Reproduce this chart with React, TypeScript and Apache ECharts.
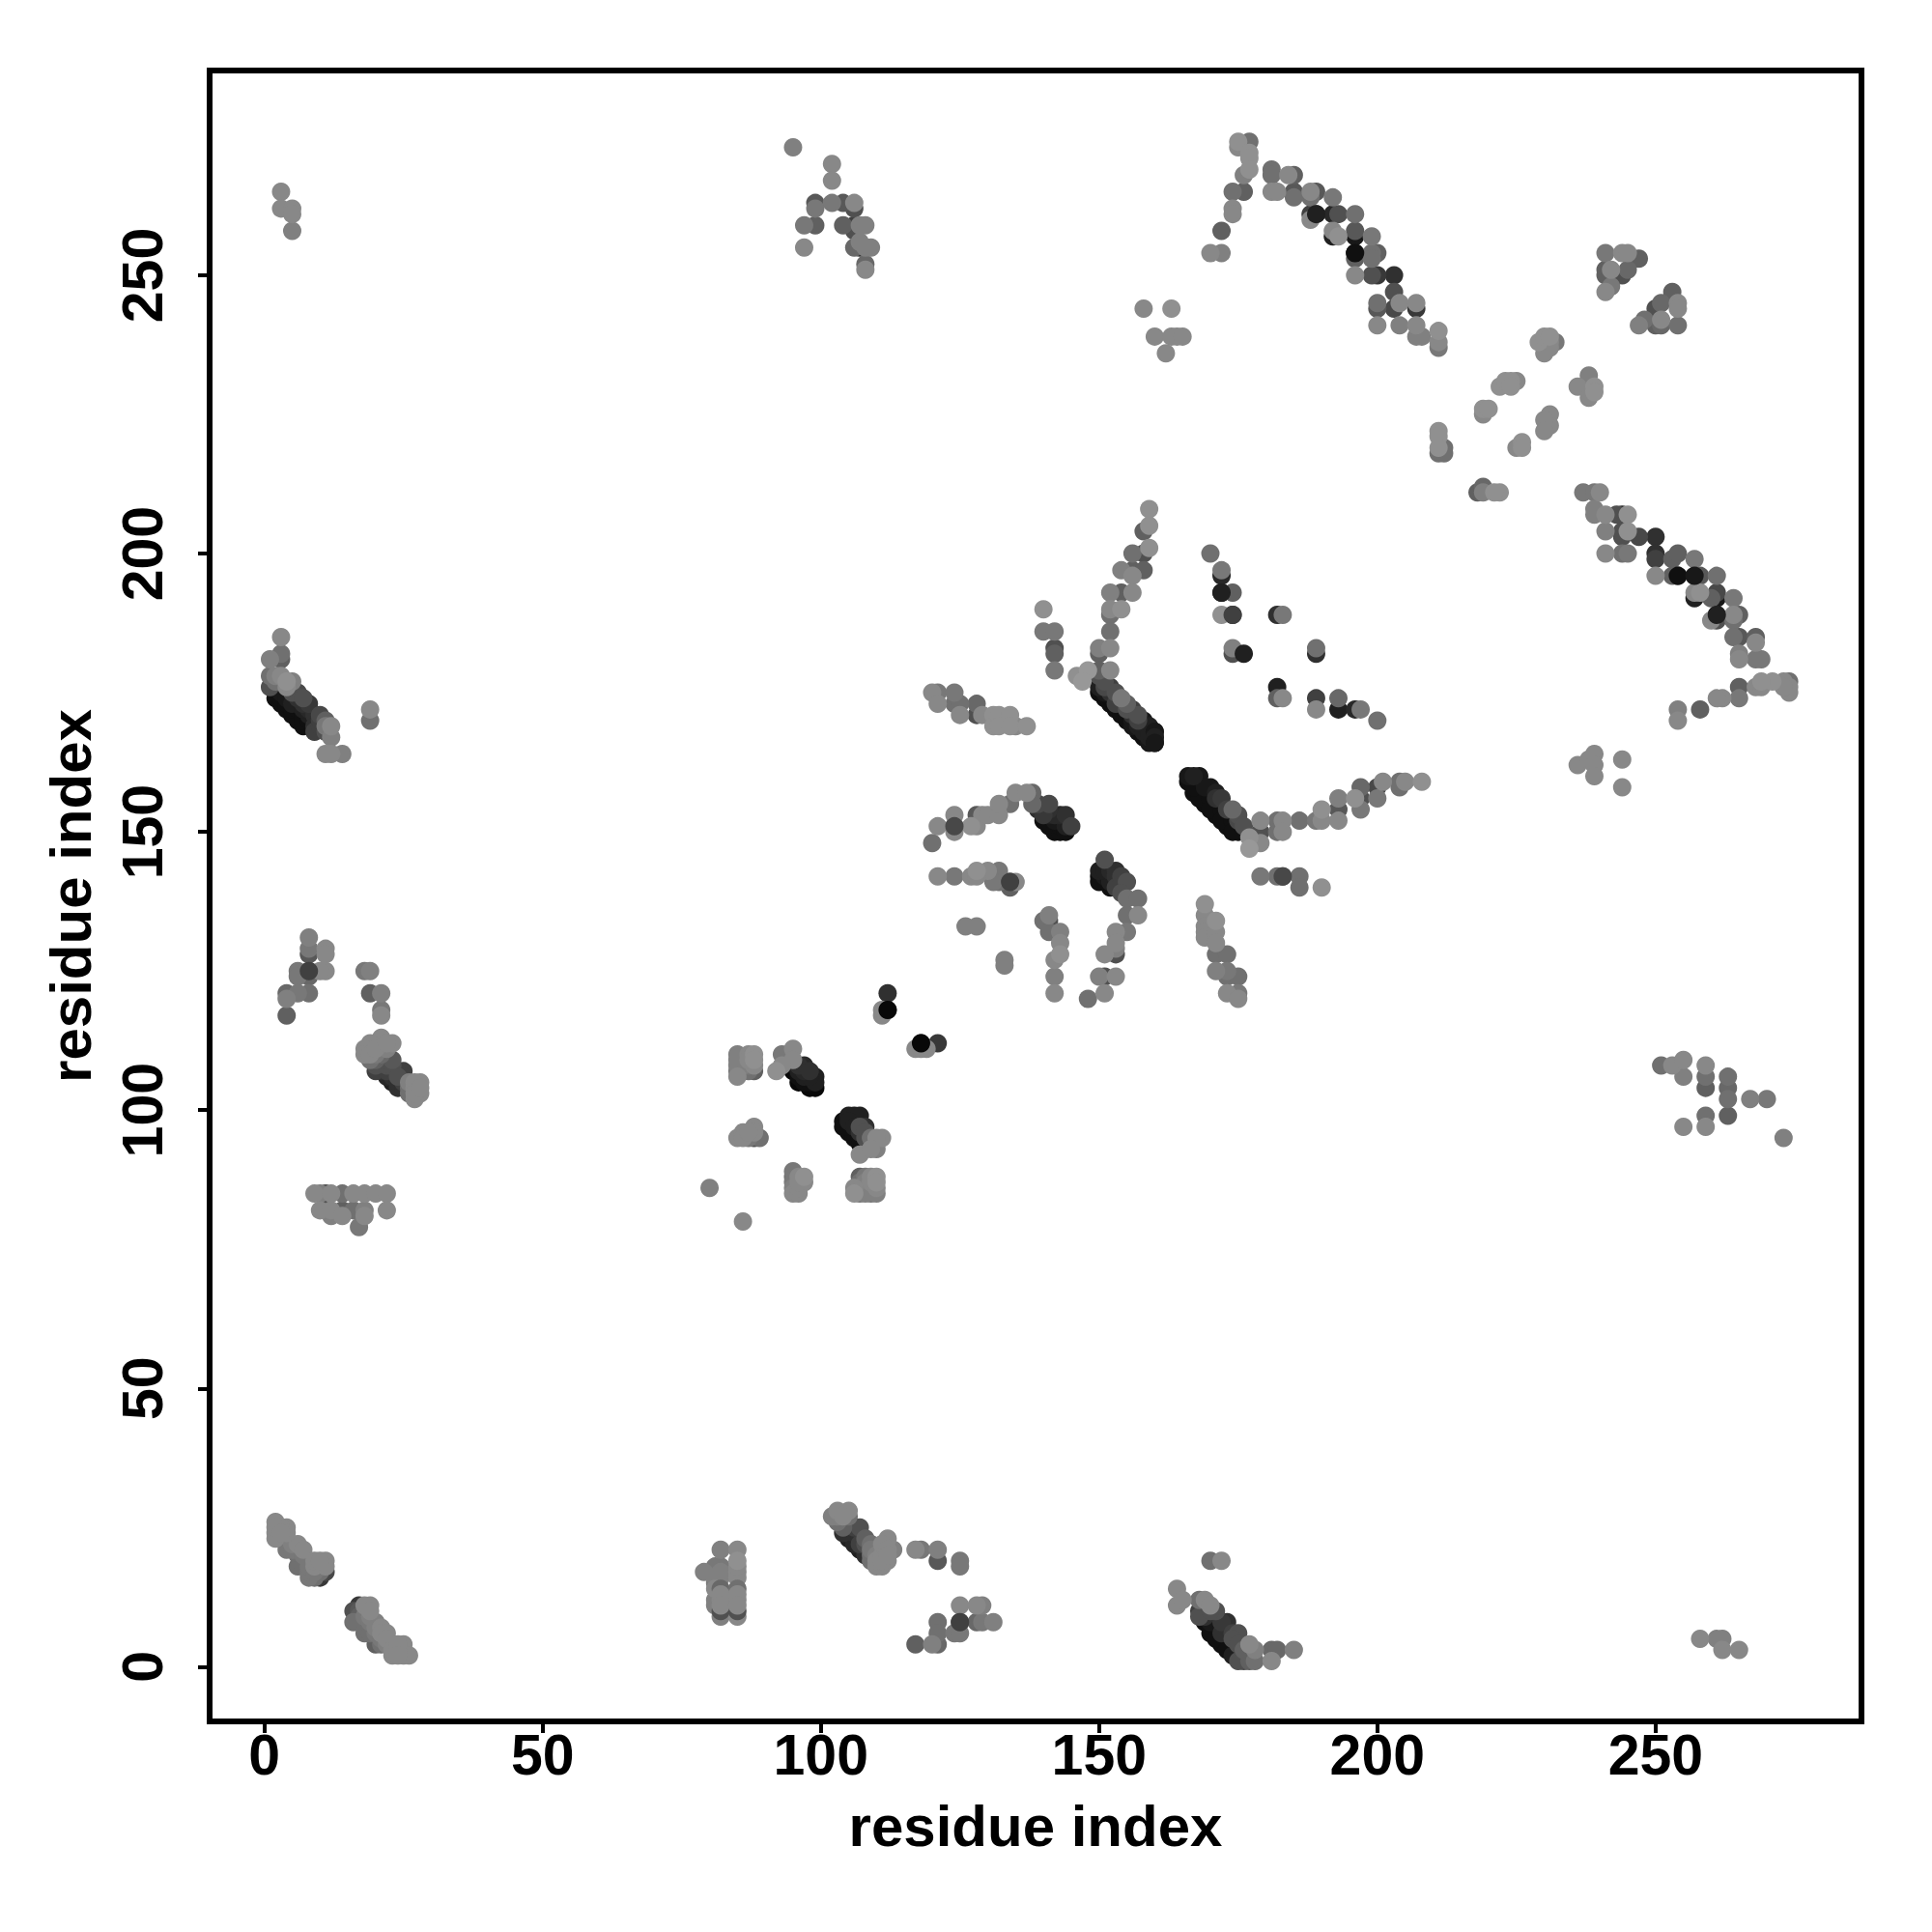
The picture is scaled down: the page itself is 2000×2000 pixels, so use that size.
import React, { useEffect, useRef } from "react";
import * as echarts from "echarts";

type P = [number, number, number];

const xTicks = [0, 50, 100, 150, 200, 250];
const yTicks = [0, 50, 100, 150, 200, 250];

const centerArcUp: P[] = [[159,208,0x90],[158,204,0x60],[159,205,0x90],[158,200,0x50],[156,200,0x70],[159,201,0x90],[156,196,0x88],[154,197,0x80],[156,197,0x60],[158,197,0x60],[152,193,0x80],[154,193,0x60],[156,193,0x88],[152,189,0x70],[152,190,0x88],[154,190,0x90],[152,186,0x70],[150,182,0x60],[150,183,0x80],[152,183,0x88],[150,179,0x60],[152,179,0x88],[148,179,0x98],[147,177,0x98],[146,178,0x90]];
const centerSmallLeft: P[] = [[140,190,0x90],[140,186,0x78],[142,186,0x78],[142,182,0x60],[142,183,0x50],[142,179,0x78]];
const centerBandA: P[] = [[150,178,0x50],[150,176,0x20],[150,175,0x10],[151,174,0x10],[152,173,0x10],[153,172,0x10],[154,171,0x10],[155,170,0x10],[156,169,0x18],[157,168,0x10],[158,167,0x10],[159,166,0x18],[160,166,0x18],[160,167,0x20],[160,168,0x18],[158,170,0x18],[156,172,0x40],[155,172,0x50],[154,174,0x78],[152,176,0x40],[151,176,0x48],[153,173,0x40],[151,175,0x18],[152,174,0x10],[152,175,0x30],[154,173,0x30],[155,171,0x10],[156,171,0x30],[156,170,0x18],[157,169,0x20],[158,168,0x20],[159,167,0x20],[157,170,0x40],[159,169,0x20],[159,168,0x20],[155,173,0x60],[153,175,0x50],[151,177,0x50],[157,171,0x50]];
const centerBandB: P[] = [[120,175,0x88],[121,175,0x78],[121,173,0x88],[124,175,0x78],[124,173,0x70],[125,173,0x70],[125,171,0x88],[128,173,0x68],[128,171,0x50],[129,171,0x88],[131,171,0x90],[131,169,0x90],[132,171,0x90],[132,169,0x90],[134,171,0x90],[134,169,0x90],[135,169,0x88],[137,169,0x90]];
const centerArcLeft: P[] = [[120,148,0x70],[121,151,0x88],[124,153,0x88],[124,150,0x88],[124,151,0x48],[127,151,0x90],[128,151,0x88],[128,153,0x58],[129,153,0x88],[130,153,0x88],[132,153,0x88],[132,155,0x88],[134,155,0x70],[135,157,0x88],[137,157,0x88],[138,157,0x68],[138,155,0x68],[139,155,0x48],[141,155,0x48],[143,153,0x28],[140,153,0x38],[145,151,0x40],[140,152,0x10],[141,151,0x10],[142,150,0x10],[143,150,0x10],[140,154,0x20],[141,153,0x20],[142,152,0x18],[143,151,0x10],[144,151,0x20],[144,150,0x10],[142,153,0x28],[144,153,0x30],[141,154,0x30],[139,154,0x30]];
const centerRow142: P[] = [[121,142,0x88],[124,142,0x78],[127,142,0x88],[128,143,0x90],[130,143,0x88],[132,143,0x78],[128,142,0x88],[131,141,0x78],[132,141,0x70],[134,140,0x60],[134,141,0x40],[135,141,0x88]];
const centerSpots: P[] = [[126,133,0x80],[128,133,0x80],[133,127,0x80],[133,126,0x80],[140,134,0x70],[141,135,0x80],[141,134,0x50],[141,132,0x70],[143,132,0x80],[143,130,0x88],[143,128,0x90],[142,127,0x88],[142,124,0x80],[142,121,0x88]];
const centerInner: P[] = [[151,145,0x50],[150,143,0x20],[153,143,0x30],[152,143,0x28],[155,141,0x50],[152,141,0x20],[150,142,0x10],[151,141,0x10],[152,140,0x10],[154,139,0x50],[155,138,0x70],[157,138,0x70],[157,135,0x88],[155,135,0x70],[155,132,0x78],[153,132,0x88],[153,130,0x88],[153,128,0x50],[153,129,0x80],[151,128,0x88],[153,124,0x88],[151,124,0x50],[150,124,0x80],[151,121,0x88],[148,120,0x70],[151,143,0x20],[151,142,0x18],[152,142,0x18],[153,141,0x18],[153,140,0x40],[154,141,0x40],[153,142,0x30],[154,142,0x40],[150,141,0x10]];
const centerUpperRight: P[] = [[170,200,0x70],[172,196,0x28],[172,197,0x78],[172,193,0x20],[174,193,0x60],[172,189,0x90],[174,189,0x40],[182,189,0x30],[183,189,0x78],[174,182,0x50],[174,183,0x80],[189,182,0x30],[189,183,0x70],[182,176,0x20],[182,174,0x60],[183,174,0x88],[189,172,0x88],[189,174,0x40],[193,172,0x20],[193,174,0x68],[196,172,0x28],[197,172,0x78],[200,170,0x70]];
const centerArcRight: P[] = [[166,160,0x18],[168,160,0x18],[167,160,0x20],[170,158,0x18],[172,156,0x38],[174,154,0x68],[175,152,0x48],[166,159,0x10],[167,157,0x10],[169,155,0x10],[171,153,0x10],[173,151,0x10],[175,150,0x10],[168,158,0x10],[168,156,0x10],[170,156,0x10],[170,154,0x10],[172,154,0x10],[172,152,0x10],[174,152,0x10],[174,150,0x10],[169,158,0x18],[171,156,0x30],[173,154,0x40],[175,153,0x50],[176,151,0x50],[171,157,0x20],[167,158,0x10],[179,150,0x50],[179,152,0x88],[177,147,0x98],[177,149,0x90],[179,148,0x88],[182,152,0x70],[183,152,0x88],[183,150,0x88],[182,150,0x70],[186,152,0x70],[189,152,0x78],[190,152,0x88],[190,154,0x90],[193,152,0x88],[193,154,0x58],[193,156,0x80],[197,154,0x78],[197,156,0x50],[197,158,0x68],[196,156,0x90],[200,156,0x78],[200,158,0x48],[201,159,0x88],[204,158,0x70],[204,159,0x70],[205,159,0x88],[208,159,0x90]];
const centerLowerRight: P[] = [[179,142,0x78],[182,142,0x70],[183,142,0x48],[186,142,0x70],[186,140,0x70],[190,140,0x90],[169,137,0x90],[169,135,0x88],[169,133,0x88],[169,132,0x88],[169,131,0x88],[171,134,0x90],[171,132,0x88],[171,130,0x88],[171,128,0x70],[173,128,0x70],[171,125,0x80],[173,125,0x78],[173,124,0x70],[175,124,0x70],[173,121,0x88],[175,121,0x78],[175,120,0x88]];
const nearDiagonal: P[] = [[112,121,0x30],[111,117,0x88],[111,118,0x88],[112,118,0x08],[118,112,0x08],[121,112,0x38],[117,111,0x88],[118,111,0x88],[119,111,0x88]];

const topArc: P[] = [[175,274,0x90],[175,273,0x88],[177,274,0x70],[177,272,0x90],[177,271,0x90],[176,268,0x80],[177,269,0x90],[174,265,0x70],[176,265,0x60],[174,262,0x88],[174,261,0x88],[172,258,0x60],[170,254,0x88],[172,254,0x80],[181,269,0x70],[181,268,0x70],[181,265,0x88],[182,265,0x88],[184,268,0x88],[185,268,0x60],[185,265,0x58],[185,264,0x70],[188,265,0x88],[189,265,0x58],[188,264,0x70],[192,264,0x78],[188,260,0x88],[188,261,0x40],[189,261,0x20],[192,261,0x28],[193,261,0x50],[196,261,0x70],[192,257,0x20],[192,258,0x88],[193,257,0x90],[196,258,0x58],[196,257,0x18],[199,257,0x78],[196,254,0x10],[196,253,0x60],[199,254,0x70],[200,254,0x60],[199,253,0x70],[196,250,0x88],[199,250,0x50],[200,250,0x38],[203,250,0x30],[203,247,0x50],[200,245,0x70],[200,244,0x58],[203,244,0x48],[204,245,0x88],[207,245,0x88],[207,244,0x38],[200,241,0x88],[204,241,0x80],[207,241,0x88],[207,239,0x80],[208,239,0x80],[211,240,0x90],[211,238,0x88],[211,237,0x78]];
const upperRightPair: P[] = [[241,254,0x78],[244,254,0x88],[245,254,0x88],[247,253,0x60],[245,251,0x68],[244,250,0x50],[241,251,0x60],[242,251,0x88],[241,250,0x60],[242,248,0x78],[241,247,0x88],[253,247,0x60],[251,245,0x68],[254,245,0x88],[250,244,0x50],[254,244,0x88],[248,242,0x70],[251,242,0x88],[247,241,0x80],[250,241,0x60],[251,241,0x68],[254,241,0x70]];
const diagonalX: P[] = [[229,238,0x90],[230,239,0x90],[231,239,0x90],[232,238,0x78],[231,238,0x88],[230,236,0x88],[231,237,0x88],[222,230,0x90],[223,231,0x90],[224,231,0x90],[225,231,0x88],[224,230,0x90],[219,226,0x90],[220,226,0x90],[219,225,0x88],[211,222,0x90],[211,221,0x90],[211,219,0x90],[212,219,0x70],[211,218,0x70],[212,218,0x70],[219,212,0x68],[218,211,0x60],[219,211,0x80],[222,211,0x90],[221,211,0x90],[236,230,0x88],[238,232,0x80],[239,230,0x90],[239,229,0x90],[238,228,0x88],[231,225,0x88],[231,223,0x88],[230,224,0x88],[230,222,0x88],[226,220,0x90],[225,219,0x88],[226,219,0x90]];
const rightBand: P[] = [[237,211,0x78],[239,211,0x78],[240,211,0x88],[239,208,0x80],[239,207,0x80],[241,207,0x88],[243,207,0x50],[244,207,0x30],[245,207,0x90],[241,204,0x80],[244,204,0x50],[245,204,0x90],[244,203,0x50],[247,203,0x48],[250,203,0x30],[241,200,0x88],[244,200,0x70],[245,200,0x78],[250,200,0x30],[250,199,0x40],[253,199,0x60],[254,200,0x60],[257,199,0x78],[250,196,0x88],[253,196,0x60],[254,196,0x10],[257,196,0x18],[258,196,0x58],[261,196,0x70],[257,192,0x20],[257,193,0x88],[258,193,0x90],[261,193,0x48],[260,192,0x60],[261,192,0x18],[264,192,0x78],[260,188,0x88],[261,189,0x20],[261,188,0x50],[264,189,0x88],[265,189,0x60],[264,188,0x70],[264,185,0x70],[265,185,0x58],[268,185,0x60],[268,184,0x88],[265,182,0x80],[265,181,0x88],[268,181,0x78],[269,181,0x78],[274,175,0x88],[274,176,0x88],[273,177,0x88],[273,176,0x88],[271,177,0x90],[269,177,0x90],[268,176,0x88],[269,176,0x88],[274,177,0x70],[265,176,0x60],[265,174,0x78],[262,174,0x88],[261,174,0x88],[258,172,0x60],[254,172,0x80],[254,170,0x88],[236,162,0x88],[238,163,0x88],[239,164,0x88],[239,162,0x88],[239,160,0x88],[244,163,0x88],[244,158,0x88]];
const upperScatter: P[] = [[158,244,0x88],[163,244,0x90],[160,239,0x88],[163,239,0x88],[164,239,0x88],[165,239,0x88],[162,236,0x88],[3,265,0x88],[3,262,0x88],[5,262,0x88],[5,261,0x88],[5,258,0x80]];
const upperMiddle: P[] = [[95,273,0x80],[102,270,0x88],[102,267,0x88],[99,262,0x78],[99,263,0x58],[102,263,0x78],[104,263,0x58],[106,262,0x50],[106,263,0x88],[97,259,0x78],[99,259,0x60],[104,259,0x60],[106,258,0x50],[106,259,0x40],[107,259,0x80],[108,259,0x80],[97,255,0x88],[106,255,0x68],[107,255,0x30],[108,255,0x80],[109,255,0x80],[107,256,0x80],[108,252,0x68],[108,251,0x88]];

const leftTop: P[] = [[3,185,0x88],[1,181,0x80],[3,182,0x70],[3,181,0x60],[1,178,0x70],[1,176,0x50],[3,178,0x88],[4,177,0x90],[2,176,0x10],[2,174,0x10],[3,173,0x10],[4,172,0x10],[5,171,0x10],[6,170,0x10],[7,169,0x10],[5,175,0x50],[6,175,0x48],[6,173,0x18],[8,173,0x38],[8,171,0x20],[10,171,0x48],[9,168,0x40],[11,169,0x78],[12,169,0x88],[12,167,0x80],[11,164,0x88],[12,164,0x88],[14,164,0x80],[19,172,0x88],[19,170,0x70],[3,175,0x18],[3,174,0x10],[4,174,0x18],[4,173,0x10],[5,173,0x20],[5,172,0x10],[6,172,0x10],[7,171,0x10],[7,170,0x10],[7,172,0x20],[8,172,0x28],[8,170,0x10],[9,170,0x20],[9,171,0x30],[9,169,0x30],[10,169,0x40],[10,170,0x40],[11,170,0x60],[11,168,0x50],[4,176,0x88],[5,177,0x80],[2,178,0x80],[2,177,0x70],[7,174,0x50],[7,173,0x30],[6,174,0x30]];
const leftMid: P[] = [[8,131,0x80],[8,129,0x78],[8,128,0x58],[11,129,0x88],[11,128,0x88],[11,125,0x88],[10,125,0x88],[6,125,0x78],[6,124,0x78],[8,125,0x40],[8,124,0x68],[4,121,0x68],[4,120,0x80],[6,121,0x78],[8,121,0x70],[4,117,0x60],[18,125,0x78],[19,125,0x80],[19,121,0x60],[21,121,0x80],[21,118,0x78],[21,117,0x88]];
const leftBand: P[] = [[21,113,0x88],[23,112,0x88],[19,112,0x88],[18,111,0x88],[18,110,0x88],[21,111,0x70],[21,110,0x68],[23,109,0x58],[20,108,0x50],[20,107,0x40],[22,106,0x28],[25,107,0x40],[24,104,0x30],[26,105,0x80],[28,105,0x88],[28,103,0x88],[27,104,0x88],[27,102,0x88],[19,109,0x70],[20,110,0x78],[20,109,0x60],[21,109,0x50],[21,108,0x30],[21,107,0x30],[22,108,0x50],[23,108,0x50],[22,107,0x40],[23,107,0x30],[23,106,0x30],[24,106,0x50],[23,105,0x20],[24,105,0x30],[25,106,0x40],[25,105,0x40],[25,104,0x30],[26,104,0x70],[26,103,0x70],[19,110,0x88],[20,111,0x88],[22,112,0x88],[22,111,0x80],[27,105,0x88],[27,103,0x88],[28,104,0x88]];
const leftRow85: P[] = [[9,85,0x88],[10,85,0x80],[11,85,0x50],[12,85,0x88],[14,85,0x70],[16,85,0x88],[18,85,0x88],[20,85,0x88],[22,85,0x88],[10,82,0x88],[11,82,0x50],[12,82,0x88],[14,82,0x60],[16,82,0x70],[18,82,0x80],[22,82,0x88],[12,81,0x80],[14,81,0x88],[18,81,0x88],[17,79,0x78]];
const bottomLeft: P[] = [[2,26,0x88],[2,24,0x88],[2,23,0x88],[4,25,0x88],[4,21,0x78],[6,22,0x88],[7,21,0x88],[6,18,0x70],[8,19,0x78],[8,16,0x78],[11,19,0x88],[11,18,0x88],[11,17,0x48],[10,16,0x38],[9,16,0x70],[8,17,0x78],[3,25,0x88],[2,25,0x88],[4,24,0x88],[3,24,0x88],[5,22,0x80],[5,21,0x78],[6,21,0x78],[6,20,0x70],[7,20,0x78],[7,19,0x70],[7,18,0x70],[8,18,0x78],[9,18,0x88],[9,19,0x88],[10,19,0x88],[9,17,0x78],[10,17,0x70],[17,11,0x38],[16,10,0x50],[19,11,0x88],[16,8,0x70],[18,8,0x70],[18,6,0x70],[21,7,0x88],[18,11,0x88],[18,9,0x78],[20,4,0x60],[23,4,0x88],[25,4,0x88],[23,2,0x88],[25,2,0x88],[26,2,0x88],[21,6,0x88],[22,6,0x88],[17,10,0x58],[17,9,0x60],[19,10,0x88],[19,9,0x80],[19,8,0x78],[20,8,0x80],[20,7,0x80],[20,6,0x78],[21,5,0x78],[22,5,0x88],[22,4,0x80],[23,3,0x88],[24,3,0x88],[24,4,0x88],[24,2,0x88],[21,4,0x70],[19,6,0x70]];

const midBlocks: P[] = [[85,110,0x80],[85,108,0x80],[85,106,0x88],[87,110,0x88],[88,110,0x90],[88,108,0x88],[88,107,0x60],[87,107,0x70],[85,107,0x78],[85,109,0x80],[86,109,0x80],[87,109,0x88],[88,109,0x90],[86,107,0x70],[86,108,0x80],[87,108,0x78],[92,107,0x90],[93,110,0x78],[95,111,0x88],[95,109,0x88],[93,108,0x88],[97,108,0x28],[96,108,0x30],[99,106,0x20],[99,105,0x20],[98,104,0x08],[96,105,0x08],[95,107,0x08],[97,106,0x20],[96,107,0x20],[96,106,0x10],[97,105,0x10],[98,105,0x10],[98,106,0x20],[98,107,0x30],[99,104,0x08],[97,107,0x28],[85,95,0x88],[87,95,0x78],[88,97,0x88],[89,95,0x70],[86,96,0x88],[88,95,0x50],[86,95,0x88],[88,96,0x88],[87,96,0x88],[95,89,0x78],[95,88,0x70],[95,85,0x88],[96,85,0x88],[97,88,0x90],[97,87,0x88],[95,87,0x78],[95,86,0x80],[96,86,0x88],[96,88,0x88],[96,87,0x88],[107,88,0x60],[106,85,0x90],[108,88,0x78],[110,88,0x90],[110,85,0x80],[108,85,0x80],[109,85,0x78],[110,87,0x90],[107,86,0x70],[108,86,0x80],[107,87,0x70],[108,87,0x80],[109,88,0x88],[109,87,0x88],[109,86,0x80],[110,86,0x88],[107,85,0x78],[106,86,0x88],[105,99,0x20],[104,98,0x10],[107,99,0x20],[106,99,0x20],[108,97,0x30],[107,97,0x50],[105,96,0x10],[107,94,0x08],[106,95,0x10],[105,98,0x20],[104,97,0x10],[106,97,0x20],[106,96,0x10],[107,95,0x10],[105,97,0x10],[107,96,0x30],[108,95,0x50],[108,96,0x50],[109,95,0x70],[111,95,0x88],[110,95,0x88],[107,92,0x88],[109,93,0x88],[110,93,0x80],[80,86,0x80],[86,80,0x88]];
const bottomMid: P[] = [[82,21,0x80],[85,21,0x88],[85,19,0x90],[79,17,0x80],[82,18,0x78],[81,18,0x78],[85,17,0x88],[85,16,0x88],[81,14,0x88],[81,12,0x80],[82,12,0x88],[85,12,0x88],[85,9,0x88],[82,9,0x80],[81,11,0x80],[81,16,0x80],[82,16,0x80],[81,15,0x78],[82,17,0x80],[85,18,0x88],[102,27,0x80],[103,28,0x88],[105,28,0x88],[104,25,0x60],[104,24,0x30],[106,22,0x28],[107,25,0x50],[108,23,0x60],[108,20,0x30],[112,23,0x88],[113,21,0x80],[110,21,0x78],[110,18,0x88],[111,18,0x88],[112,19,0x88],[109,21,0x78],[105,27,0x70],[103,26,0x70],[103,27,0x80],[104,27,0x88],[105,26,0x48],[105,25,0x30],[105,23,0x20],[106,25,0x40],[106,24,0x30],[107,23,0x30],[107,21,0x20],[107,22,0x40],[108,21,0x30],[108,22,0x50],[109,22,0x70],[109,20,0x70],[109,19,0x70],[110,20,0x80],[110,19,0x88],[111,20,0x88],[111,19,0x88],[111,22,0x88],[112,21,0x88],[112,20,0x88],[117,21,0x88],[118,21,0x78],[121,21,0x80],[121,19,0x58],[125,19,0x78],[125,18,0x78],[125,11,0x88],[128,11,0x88],[129,11,0x80],[131,8,0x80],[125,8,0x40],[121,8,0x70],[128,8,0x68],[129,8,0x78],[121,6,0x70],[124,6,0x78],[125,6,0x78],[117,4,0x60],[120,4,0x80],[121,4,0x68]];
const bottomRight: P[] = [[170,19,0x70],[172,19,0x88],[164,14,0x88],[164,11,0x88],[165,12,0x88],[168,12,0x70],[169,12,0x88],[168,9,0x50],[171,10,0x50],[173,8,0x30],[175,6,0x50],[177,4,0x88],[178,3,0x80],[181,3,0x68],[182,3,0x68],[185,3,0x80],[181,1,0x88],[178,1,0x70],[176,1,0x50],[177,1,0x60],[169,8,0x10],[170,6,0x10],[172,4,0x10],[174,3,0x10],[175,2,0x18],[168,10,0x40],[169,9,0x30],[170,8,0x18],[171,7,0x10],[171,5,0x10],[172,6,0x30],[173,5,0x10],[173,3,0x10],[174,5,0x50],[174,2,0x20],[175,4,0x50],[176,3,0x60],[175,1,0x50],[170,10,0x50],[172,8,0x38],[174,6,0x40],[170,11,0x88],[258,5,0x88],[261,5,0x80],[262,5,0x80],[262,3,0x88],[265,3,0x88]];
const rightMid: P[] = [[251,108,0x70],[253,108,0x88],[255,109,0x88],[255,106,0x80],[259,108,0x88],[259,106,0x70],[259,104,0x60],[259,99,0x70],[259,97,0x88],[255,97,0x88],[263,106,0x70],[263,104,0x68],[263,102,0x70],[263,99,0x60],[267,102,0x80],[270,102,0x78],[273,95,0x80]];

// dark contacts that sit in front of their lighter neighbours
const frontPoints: P[] = [[82,14,0x68],[85,14,0x70],[82,13,0x88],[85,13,0x88],[82,10,0x50],[85,10,0x50],[82,11,0x88],[85,11,0x88],[176,182,0x20],[160,168,0x18],[160,167,0x20],[160,166,0x18],[189,261,0x20],[196,254,0x10],[254,196,0x10],[257,196,0x18],[261,189,0x20],[172,193,0x20],[174,189,0x40],[183,142,0x48],[118,112,0x08],[112,118,0x08],[125,8,0x40],[8,125,0x40],[124,151,0x48],[134,141,0x40]];

const allPoints: P[] = [
  ...centerArcUp, ...centerSmallLeft, ...centerBandA, ...centerBandB, ...centerArcLeft, ...centerRow142,
  ...centerSpots, ...centerInner, ...centerUpperRight, ...centerArcRight, ...centerLowerRight, ...nearDiagonal,
  ...topArc, ...upperRightPair, ...diagonalX, ...rightBand, ...upperScatter, ...upperMiddle,
  ...leftTop, ...leftMid, ...leftBand, ...leftRow85, ...bottomLeft, ...midBlocks, ...bottomMid, ...bottomRight, ...rightMid,
];
const ordered: P[] = [...allPoints].sort((a, b) => a[2] - b[2]).concat(frontPoints);

const FONT = "'Liberation Sans', Arial, sans-serif";

export default function App() {
  const ref = useRef<HTMLDivElement>(null);
  useEffect(() => {
    if (!ref.current) return;
    const chart = echarts.init(ref.current, undefined, { renderer: "svg" });
    const axisCommon = {
      type: "value" as const,
      name: "residue index",
      nameLocation: "middle" as const,
      nameTextStyle: { fontFamily: FONT, fontWeight: "bold" as const, fontSize: 60, color: "#000" },
      axisLine: { show: false, onZero: false },
      splitLine: { show: false },
    };
    chart.setOption({
      animation: false,
      backgroundColor: "#fff",
      grid: { left: 217, right: 73, top: 73, bottom: 218, show: true, borderColor: "#000", borderWidth: 6, backgroundColor: "transparent" },
      xAxis: {
        ...axisCommon,
        min: -9.84,
        max: 287,
        nameGap: 78,
        axisTick: { show: true, length: 12, lineStyle: { color: "#000", width: 4 }, customValues: xTicks },
        axisLabel: { show: true, customValues: xTicks, margin: 5, showMinLabel: true, showMaxLabel: true, fontFamily: FONT, fontWeight: "bold", fontSize: 59, color: "#000" },
      },
      yAxis: {
        ...axisCommon,
        min: -9.84,
        max: 286.8,
        nameGap: 114,
        axisTick: { show: true, length: 12, lineStyle: { color: "#000", width: 4 }, customValues: yTicks },
        axisLabel: { show: true, customValues: yTicks, rotate: 90, margin: 40, fontFamily: FONT, fontWeight: "bold", fontSize: 59, color: "#000" },
      },
      series: [
        {
          type: "scatter",
          symbol: "circle",
          symbolSize: 19,
          silent: true,
          itemStyle: { opacity: 1 },
          data: ordered.map((p) => ({
            value: [p[0], p[1]],
            itemStyle: { color: `rgb(${p[2]},${p[2]},${p[2]})`, opacity: 1 },
          })),
        },
      ],
    });
    return () => chart.dispose();
  }, []);
  return <div ref={ref} style={{ position: "absolute", left: 0, top: 0, width: 2000, height: 2000 }} />;
}
